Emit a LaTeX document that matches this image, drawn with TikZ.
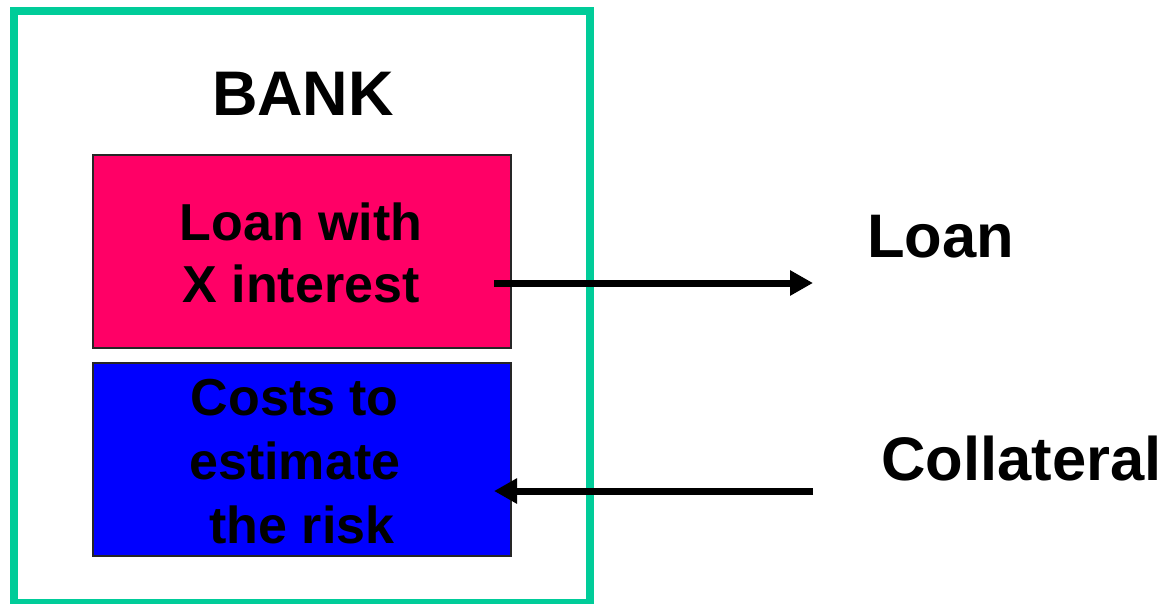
\documentclass[tikz,border=0pt]{standalone}
\usepackage{fontspec}
\setmainfont{Liberation Sans}
\usetikzlibrary{arrows.meta}
\definecolor{frameGreen}{HTML}{00CC99}
\definecolor{boxPink}{HTML}{FF0066}
\definecolor{boxBlue}{HTML}{0000FF}
\tikzset{
  frame/.style={draw=frameGreen, line width=8pt},
  panel/.style={draw=black!85, line width=1.8pt},
  txt/.style={inner sep=0pt, font=\bfseries},
  arr/.style={line width=7pt, -{Triangle[length=23pt,width=24pt]}},
}
\begin{document}
\begin{tikzpicture}[x=1pt,y=-1pt]
\useasboundingbox (0,0) rectangle (1174,603);
\clip (0,0) rectangle (1174,603);
\draw[frame] (14,11) rectangle (590,603);
\node[txt, anchor=base, font=\bfseries\fontsize{63}{70}\selectfont] (bank) at (303,115) {BANK};
\draw[panel, fill=boxPink] (93,155) rectangle (511,348);
\draw[panel, fill=boxBlue] (93,363) rectangle (511,556);
\node[txt, anchor=base, align=center, font=\bfseries\fontsize{52}{62}\selectfont] (loanx) at (301,302) {Loan with\\X interest};
\node[txt, anchor=base, align=center, font=\bfseries\fontsize{52}{64}\selectfont] (costs) at (302,543) {Costs to\kern0.278em\\estimate\kern0.278em\\the risk};
\node[txt, anchor=base west, font=\bfseries\fontsize{61.5}{70}\selectfont] (loan) at (867,257) {Loan};
\node[txt, anchor=base west, font=\bfseries\fontsize{61.5}{70}\selectfont] (coll) at (881,480) {Collateral};
\coordinate (a1s) at (494,283);
\coordinate (a1e) at (813,283);
\coordinate (a2s) at (813,491);
\coordinate (a2e) at (494,491);
\draw[arr] (a1s) -- (a1e);
\draw[arr] (a2s) -- (a2e);
\end{tikzpicture}
\end{document}
